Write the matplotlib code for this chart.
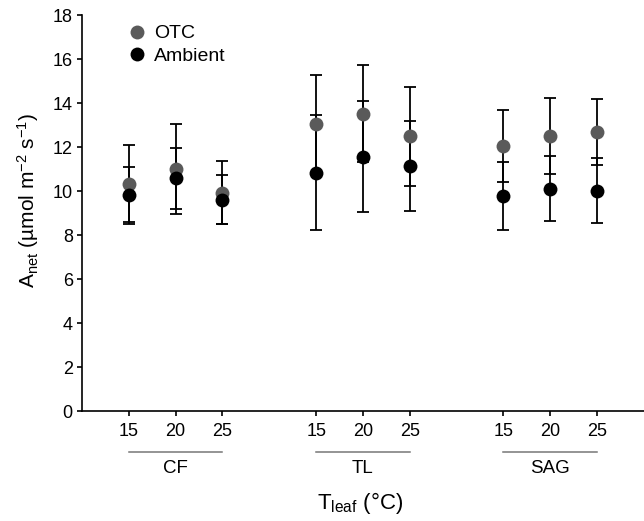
import numpy as np
import matplotlib
matplotlib.use("Agg")
import matplotlib.pyplot as plt

plt.rcParams["font.family"] = ["Liberation Sans", "DejaVu Sans"]
plt.rcParams["mathtext.fontset"] = "custom"
plt.rcParams["mathtext.rm"] = "Liberation Sans"
plt.rcParams["mathtext.it"] = "Liberation Sans:italic"

groups = ["CF", "TL", "SAG"]
temps = ["15", "20", "25"]
otc_mean = [10.33, 11.00, 9.92, 13.05, 13.52, 12.49, 12.05, 12.51, 12.70]
otc_err = [1.75, 2.05, 1.43, 2.23, 2.20, 2.25, 1.65, 1.74, 1.50]
amb_mean = [9.80, 10.57, 9.61, 10.84, 11.55, 11.13, 9.78, 10.11, 10.01]
amb_err = [1.28, 1.40, 1.10, 2.62, 2.52, 2.05, 1.53, 1.49, 1.48]

# x positions: 3 temps per group, one empty slot between groups
xpos = np.array([g * 4 + t for g in range(len(groups)) for t in range(len(temps))])

fig = plt.figure(figsize=(6.44, 5.21), dpi=100)
ax = fig.add_axes([0.1273, 0.2111, 0.8727, 0.7601])

ekw = dict(fmt="none", ecolor="black", elinewidth=1.3, capsize=4.5, capthick=1.3, zorder=2)
ax.errorbar(xpos, otc_mean, yerr=otc_err, **ekw)
ax.errorbar(xpos, amb_mean, yerr=amb_err, **ekw)
ax.plot(xpos, otc_mean, "o", color="#5a5a5a", ms=10, mec="none", zorder=3, label="OTC")
ax.plot(xpos, amb_mean, "o", color="black", ms=10, mec="none", zorder=4, label="Ambient")

ax.set_xlim(-1, 11)
ax.set_ylim(0, 18)
ax.set_yticks(np.arange(0, 19, 2))
ax.set_xticks(xpos)
ax.set_xticklabels(temps * len(groups))
for s in ["top", "right"]:
    ax.spines[s].set_visible(False)
for s in ["left", "bottom"]:
    ax.spines[s].set_linewidth(1.2)
ax.tick_params(direction="out", length=3.6, width=1.2, labelsize=13, pad=3)
ax.tick_params(axis="x", pad=5)

# group brackets under the tick labels
xt = ax.get_xaxis_transform()
for g, name in enumerate(groups):
    x0, x1 = g * 4, g * 4 + 2
    ax.plot([x0, x1], [-0.1035, -0.1035], color="#777777", lw=1.1, transform=xt, clip_on=False)
    ax.text((x0 + x1) / 2, -0.146, name, transform=xt, ha="center", va="center", fontsize=13.5)

ax.text(0.4947, -0.2475, r"T$_{\mathrm{leaf}}$ (°C)", transform=ax.transAxes,
        ha="center", va="baseline", fontsize=16)
ax.text(-0.096, 0.533, r"A$_{\mathrm{net}}$ (µmol m$^{-2}$ s$^{-1}$)", transform=ax.transAxes,
        rotation=90, ha="center", va="center", fontsize=15)

ax.legend(loc="upper left", bbox_to_anchor=(0.064, 1.0), frameon=False, numpoints=1,
          handlelength=1.0, handletextpad=0.35, labelspacing=0.25, borderpad=0, fontsize=14)

fig.savefig("out.png", dpi=100)
